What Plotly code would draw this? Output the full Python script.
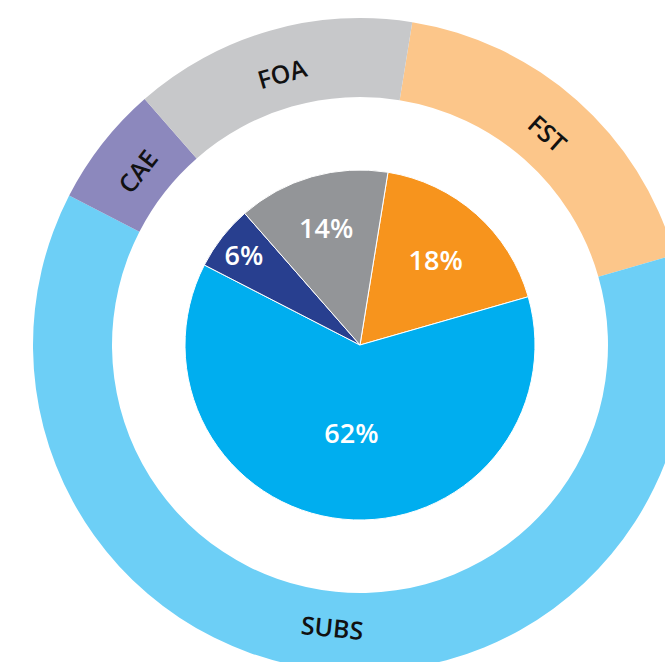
import math
import plotly.graph_objects as go

# Data
categories = ["FST", "SUBS", "CAE", "FOA"]
shares = [18, 62, 6, 14]
inner_labels = ["18%", "62%", "6%", "14%"]
inner_colors = ["#F7941D", "#00AEEF", "#283F8F", "#939598"]
outer_colors = ["#FCC68A", "#6DCFF6", "#8C88BD", "#C7C8CA"]
start_angle = 9.2  # degrees clockwise from 12 o'clock

W, H = 720, 720
cx, cy = 360, 345
R_out, R_in_ring, R_pie = 327, 248, 175
R_label = 283

def dom(r):
    x0 = (cx - r) / W
    x1 = (cx + r) / W
    yc = (H - cy) / H
    return dict(x=[x0, x1], y=[yc - r / H, yc + r / H])

fig = go.Figure()
fig.add_trace(go.Pie(
    labels=categories, values=shares,
    textinfo="none", sort=False, direction="clockwise", rotation=start_angle,
    hole=R_in_ring / R_out, domain=dom(R_out),
    marker=dict(colors=outer_colors, line=dict(width=0)),
    showlegend=False, hoverinfo="label+percent",
))
fig.add_trace(go.Pie(
    labels=categories, values=shares, text=inner_labels,
    textinfo="text", sort=False, direction="clockwise", rotation=start_angle,
    domain=dom(R_pie),
    marker=dict(colors=inner_colors, line=dict(width=1, color="white")),
    insidetextorientation="horizontal",
    textfont=dict(family="Open Sans", size=27, color="white", weight=600),
    showlegend=False, hoverinfo="label+percent",
))

# Tangential labels on the outer ring, placed at each slice's mid-angle
total = sum(shares)
acc = start_angle
for name, v in zip(categories, shares):
    mid = acc + 360 * v / total / 2
    acc += 360 * v / total
    th = math.radians(mid)
    px = cx + R_label * math.sin(th)
    py = cy - R_label * math.cos(th)
    m = mid % 360
    ang = m - 180 if 90 < m < 270 else (m if m <= 90 else m - 360)
    fig.add_annotation(
        x=px / W, y=1 - py / H, xref="paper", yref="paper",
        text=name, showarrow=False, textangle=ang,
        xanchor="center", yanchor="middle",
        font=dict(family="Open Sans", size=25, color="#111111", weight=600),
    )

fig.update_layout(
    width=W, height=H, margin=dict(l=0, r=0, t=0, b=0),
    paper_bgcolor="white", plot_bgcolor="white",
)
fig.write_html("out.html", post_script="document.body.style.margin='0';document.body.style.overflow='hidden';document.documentElement.style.overflow='hidden';")
